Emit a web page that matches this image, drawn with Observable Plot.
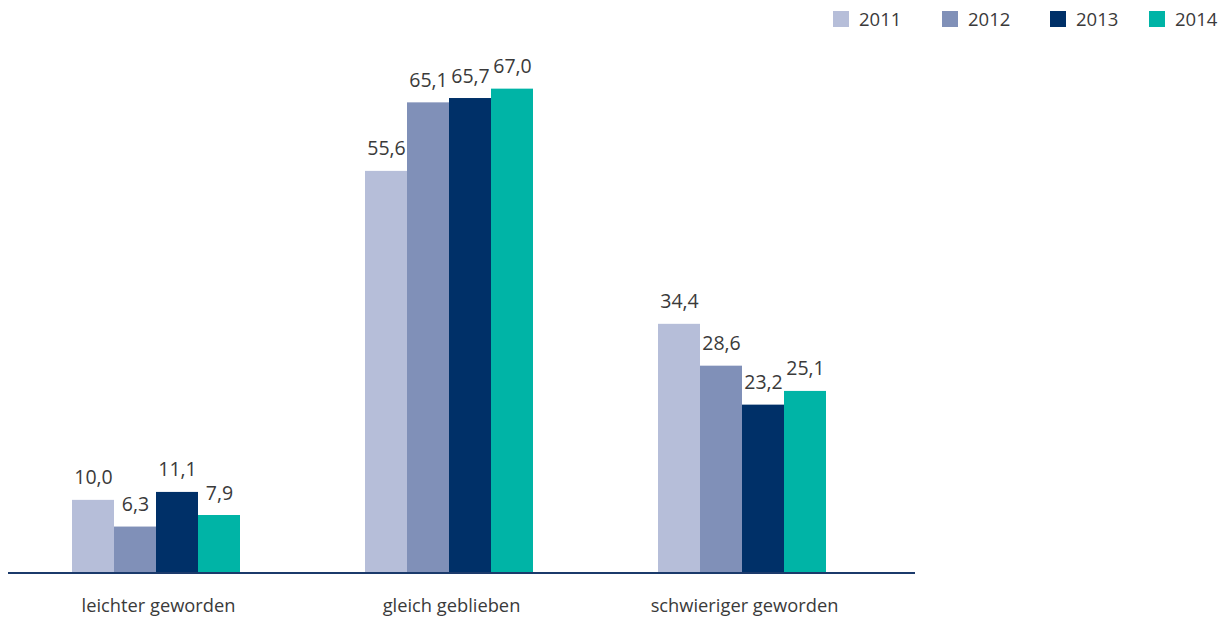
<!DOCTYPE html>
<html><head><meta charset="utf-8">
<script src="https://cdn.jsdelivr.net/npm/d3@7"></script>
<script src="https://cdn.jsdelivr.net/npm/@observablehq/plot@0.6"></script>
<style>
body{margin:0;background:#fff;font-family:"Open Sans",sans-serif;}
#legend{height:38px;position:relative;width:1230px;}
.item{position:absolute;top:7px;display:flex;align-items:center;font-size:18.5px;color:#3a3a3a;line-height:24px;}
.sw{width:16px;height:16px;margin-right:10px;}
</style></head><body>
<div id="legend"></div><div id="chart"></div>
<script>
const categories = ["leichter geworden", "gleich geblieben", "schwieriger geworden"];
const years = ["2011", "2012", "2013", "2014"];
const values2011 = [10.0, 55.6, 34.4];
const values2012 = [6.3, 65.1, 28.6];
const values2013 = [11.1, 65.7, 23.2];
const values2014 = [7.9, 67.0, 25.1];
const colors = ["#b6bed9", "#8090b8", "#003068", "#00b4a6"];

const series = [values2011, values2012, values2013, values2014];
const data = [];
categories.forEach((c, i) => years.forEach((y, j) => data.push({category: c, year: y, value: series[j][i]})));
const fmt = v => d3.format(".1f")(v).replace(".", ",");

// legend
const legend = d3.select("#legend");
const legendX = [833, 942, 1050, 1149];
years.forEach((y, j) => {
  const it = legend.append("div").attr("class", "item").style("left", legendX[j] + "px");
  it.append("div").attr("class", "sw").style("background", colors[j]);
  it.append("span").text(y);
});

const chart = Plot.plot({
  width: 1230,
  height: 583,
  marginLeft: 8,
  marginRight: 315,
  marginTop: 29,
  marginBottom: 49,
  style: {fontFamily: "Open Sans", background: "#fff"},
  fx: {domain: categories, range: [71, 827], paddingInner: 0.428, paddingOuter: 0, label: null},
  x: {domain: years, padding: 0, axis: null},
  y: {domain: [0, 70], axis: null},
  color: {domain: years, range: colors},
  marks: [
    Plot.barY(data, {fx: "category", x: "year", y: "value", fill: "year"}),
    Plot.text(data, {fx: "category", x: "year", y: "value", text: d => fmt(d.value), lineAnchor: "bottom", dy: -16, fontSize: 19.5, fill: "#3a3a3a"}),
    Plot.ruleY([0], {stroke: "#1b3a6b", strokeWidth: 2, insetLeft: -64, insetRight: -89, shapeRendering: "crispEdges"}),
    Plot.axisFx({anchor: "bottom", tickSize: 0, tickPadding: 26, fontSize: 18.3, fill: "#3a3a3a", dx: 2, label: null})
  ]
});
document.getElementById("chart").append(chart);
</script>
</body></html>
